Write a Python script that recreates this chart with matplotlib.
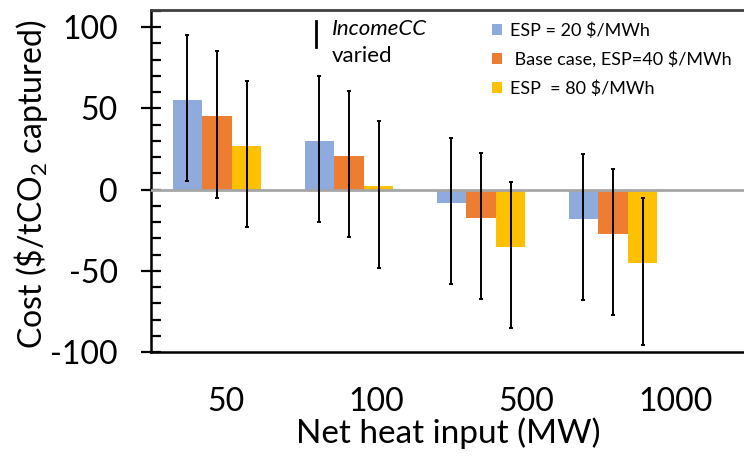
import numpy as np
import matplotlib
matplotlib.use('Agg')
import matplotlib.pyplot as plt
from matplotlib.ticker import MultipleLocator

plt.rcParams['font.family'] = ['Lato', 'DejaVu Sans']
plt.rcParams['mathtext.fontset'] = 'custom'
plt.rcParams['mathtext.rm'] = 'Lato'
plt.rcParams['mathtext.it'] = 'Lato:italic'

# data
heat_input = ['50', '100', '500', '1000']
esp20 = [55, 30, -8, -18]
esp40 = [45, 20.5, -17.5, -27.5]
esp80 = [27, 2, -35.5, -45.5]
err_up = [40, 40, 40, 40]
err_down = [50, 50, 50, 50]
series_labels = ['ESP = 20 $/MWh', ' Base case, ESP=40 $/MWh', 'ESP  = 80 $/MWh']
colors = ['#8FAADC', '#ED7D31', '#FFC000']

fig = plt.figure(figsize=[7.44, 4.61], dpi=100)
# axes runs a little past the right edge of the picture (cropped like the original)
ax = fig.add_axes([151/744, 1 - 352/461, 600/744, 342/461])

x = np.arange(len(heat_input))
width = 0.2235
handles = []
for i, (vals, col) in enumerate(zip([esp20, esp40, esp80], colors)):
    pos = x + (i - 1) * width
    b = ax.bar(pos, vals, width, color=col, edgecolor='none', zorder=2)
    handles.append(b)
    ax.errorbar(pos, vals, yerr=[err_down, err_up], fmt='none', ecolor='black',
                elinewidth=1.4, capsize=1.5, capthick=1.4, zorder=4)

ax.axhline(0, color='#A6A6A6', lw=2, zorder=3)

ax.set_xlim(-0.5, -0.5 + 600/132)
ax.set_ylim(-100, 110.5)

ax.spines['right'].set_visible(False)
ax.spines['left'].set_linewidth(1.8)
ax.spines['bottom'].set_linewidth(1.8)
ax.spines['top'].set_linewidth(2)
ax.spines['top'].set_color('#404040')

ax.yaxis.set_major_locator(MultipleLocator(50))
ax.yaxis.set_minor_locator(MultipleLocator(10))
ax.tick_params(axis='y', which='major', direction='inout', length=14, width=1.6,
               labelsize=23, pad=17)
ax.tick_params(axis='y', which='minor', direction='in', length=7, width=1.6)
ax.set_yticks([-100, -50, 0, 50, 100])
ax.set_yticklabels(['-100', '-50', '0', '50', '100'])

# category labels sit in four equal slots of the axis, slightly wider than the bar spacing
ax.set_xticks(-0.5 + (x + 0.5) * 150 / 132)
ax.set_xticklabels(heat_input)
ax.tick_params(axis='x', length=0, labelsize=23, pad=25)

ax.set_ylabel(r'Cost (\$/tCO$_2$ captured)', fontsize=23)
ax.yaxis.set_label_coords(-0.168, 0.49)
ax.set_xlabel('Net heat input (MW)', fontsize=24)
ax.xaxis.set_label_coords(297/600, -0.19)

# "IncomeCC varied" note
fig.lines.append(plt.Line2D([316/744, 316/744], [1 - 21/461, 1 - 47/461],
                            transform=fig.transFigure, color='black', lw=2))
fig.text(332/744, 1 - 29/461, 'IncomeCC', fontsize=16, style='italic', va='center')
fig.text(332/744, 1 - 56/461, 'varied', fontsize=16, va='center')

ax.legend(handles, series_labels, loc='upper left', bbox_to_anchor=(492/744, 1 - 22/461),
          bbox_transform=fig.transFigure, frameon=False, fontsize=13,
          handlelength=0.55, handleheight=0.55, handletextpad=0.45,
          labelspacing=0.7, borderpad=0, borderaxespad=0)

fig.savefig('out.png', dpi=100)
